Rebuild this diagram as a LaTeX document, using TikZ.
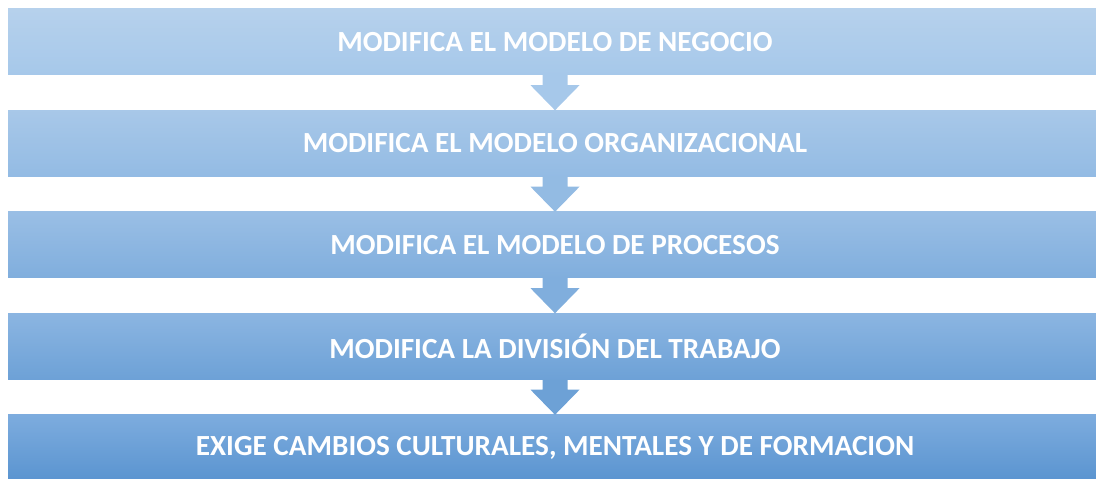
\documentclass[tikz,border=0pt]{standalone}
\usepackage{fontspec}
\setmainfont{Carlito}
\usetikzlibrary{calc}
\definecolor{barlighttop}{RGB}{182, 209, 236}
\definecolor{barlightbot}{RGB}{166, 200, 234}
\definecolor{bardarktop}{RGB}{125, 172, 222}
\definecolor{bardarkbot}{RGB}{90, 148, 208}

\begin{document}
\begin{tikzpicture}[x=1pt, y=1pt,
        stage/.style={rectangle, minimum width=1094pt, minimum height=66pt, inner sep=0pt,
          text=white, font=\fontsize{29.2}{32}\selectfont\bfseries},
        flowarr/.style={draw=none}
      ]
        \useasboundingbox (0,0) rectangle (1096,479);
        % bars, lighter at the top, darker at the bottom
        \foreach \i/\y/\txt in {1/437/{MODIFICA EL MODELO DE NEGOCIO},
                                2/335.5/{MODIFICA EL MODELO ORGANIZACIONAL},
                                3/234/{MODIFICA EL MODELO DE PROCESOS},
                                4/132.5/{MODIFICA LA DIVISIÓN DEL TRABAJO},
                                5/31/{EXIGE CAMBIOS CULTURALES, MENTALES Y DE FORMACION}} {
          \pgfmathtruncatemacro{\mixtop}{100-25*(\i-1)}
          \colorlet{curtop}{barlighttop!\mixtop!bardarktop}
          \colorlet{curbot}{barlightbot!\mixtop!bardarkbot}
          \node[stage, top color=curtop, bottom color=curbot] (n\i) at (555,\y) {\txt};
        }
        % block arrows between the bars
        \foreach \i/\j in {1/2, 2/3, 3/4, 4/5} {
          \pgfmathtruncatemacro{\mixarr}{100-25*(\i-1)}
          \colorlet{curarr}{barlightbot!\mixarr!bardarkbot}
          \fill[flowarr, curarr] ($(n\i.south)+(-12.5,0)$) -- ++(0,-10) -- ++(-12,0)
            -- (n\j.north) -- ($(n\i.south)+(24.5,-10)$) -- ++(-12,0)
            -- ($(n\i.south)+(12.5,0)$) -- cycle;
        }
      \end{tikzpicture}
\end{document}
